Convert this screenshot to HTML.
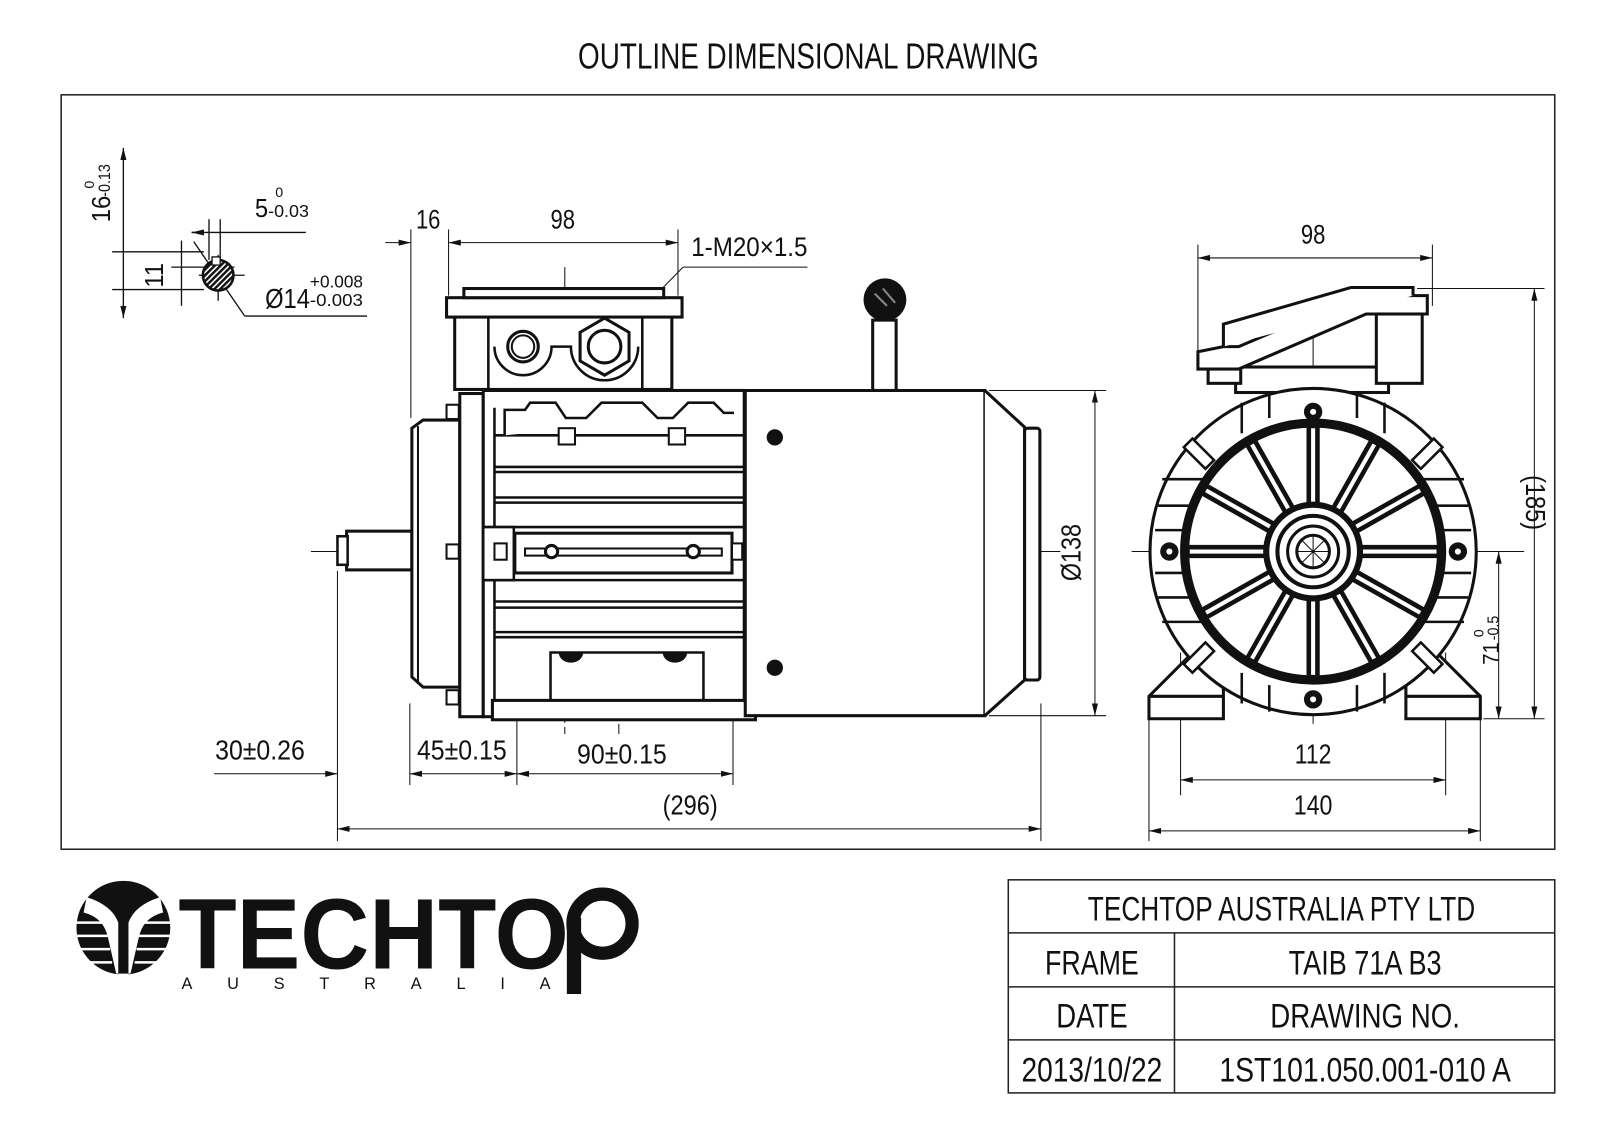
<!DOCTYPE html>
<html><head><meta charset="utf-8"><style>
html,body{margin:0;padding:0;background:#fff;}
svg{display:block;}
text{font-family:"Liberation Sans Narrow","Liberation Sans",sans-serif;fill:#111;}
</style></head><body>
<svg width="1599" height="1130" viewBox="0 0 1599 1130" xmlns="http://www.w3.org/2000/svg">
<defs>
<marker id="a" viewBox="0 0 12 6" refX="12" refY="3" markerWidth="12" markerHeight="6" orient="auto-start-reverse" markerUnits="userSpaceOnUse"><path d="M0,0L12,3L0,6z" fill="#111"/></marker>
<pattern id="h" width="4" height="4" patternUnits="userSpaceOnUse" patternTransform="rotate(45)"><rect width="4" height="4" fill="#fff"/><rect width="2.4" height="4" fill="#111"/></pattern>
</defs>
<g transform="scale(1.0195)">
<text x="793" y="67" text-anchor="middle" font-size="35" textLength="452" lengthAdjust="spacingAndGlyphs">OUTLINE DIMENSIONAL DRAWING</text>
<rect x="60" y="93" width="1465" height="740" fill="none" stroke="#222" stroke-width="1.5"/>

<!-- keyway detail -->
<g stroke="#111" fill="none" stroke-width="1.3">
<line x1="121" y1="145" x2="121" y2="312" marker-start="url(#a)" marker-end="url(#a)"/>
<line x1="110" y1="247" x2="200" y2="247"/><line x1="110" y1="284" x2="200" y2="284"/>
<line x1="178" y1="236" x2="178" y2="300"/>
<line x1="168" y1="262" x2="230" y2="262"/>
<line x1="188" y1="228" x2="300" y2="228"/>
<line x1="205" y1="215" x2="205" y2="255"/><line x1="216" y1="215" x2="216" y2="255"/>
<line x1="188" y1="228" x2="200" y2="228" marker-start="url(#a)"/>
<line x1="195" y1="270" x2="240" y2="270"/><line x1="214" y1="250" x2="214" y2="295"/>
<line x1="190" y1="237" x2="240" y2="310"/><line x1="240" y1="310" x2="360" y2="310"/>
<circle cx="214" cy="270" r="15" fill="url(#h)" stroke-width="2.5"/>
<rect x="208" y="252" width="8" height="8" fill="#fff"/>
</g>
<text transform="translate(108,218) rotate(-90)" font-size="25" textLength="26" lengthAdjust="spacingAndGlyphs">16</text>
<text transform="translate(108,193) rotate(-90)" font-size="16" textLength="32" lengthAdjust="spacingAndGlyphs">-0.13</text>
<text transform="translate(92,185) rotate(-90)" font-size="14">0</text>
<text x="250" y="213" font-size="25" textLength="13" lengthAdjust="spacingAndGlyphs">5</text><text x="263" y="213" font-size="17" textLength="40" lengthAdjust="spacingAndGlyphs">-0.03</text><text x="270" y="193" font-size="14">0</text>
<text transform="translate(160,282) rotate(-90)" font-size="25" textLength="24" lengthAdjust="spacingAndGlyphs">11</text>
<text x="260" y="302" font-size="27" textLength="44" lengthAdjust="spacingAndGlyphs">Ø14</text><text x="304" y="282" font-size="17" textLength="52" lengthAdjust="spacingAndGlyphs">+0.008</text><text x="304" y="300" font-size="17" textLength="52" lengthAdjust="spacingAndGlyphs">-0.003</text>

<!-- side view -->
<g stroke="#111" fill="none" stroke-width="1">
<line x1="305" y1="541" x2="1040" y2="541" stroke-dasharray="40 4 3 4"/>
<line x1="554" y1="262" x2="554" y2="720" stroke-dasharray="30 4 3 4"/>
<line x1="607" y1="300" x2="607" y2="720" stroke-dasharray="30 4 3 4"/>
<line x1="403" y1="225" x2="403" y2="410"/><line x1="440" y1="225" x2="440" y2="290"/><line x1="665" y1="225" x2="665" y2="290"/>
<line x1="378" y1="238" x2="403" y2="238" marker-end="url(#a)"/>
<line x1="440" y1="238" x2="665" y2="238" marker-start="url(#a)" marker-end="url(#a)"/>
<line x1="670" y1="262" x2="792" y2="262"/><line x1="670" y1="262" x2="615" y2="318"/>
<line x1="331" y1="560" x2="331" y2="825"/><line x1="402" y1="690" x2="402" y2="770"/><line x1="507" y1="690" x2="507" y2="770"/><line x1="719" y1="690" x2="719" y2="770"/><line x1="1021" y1="690" x2="1021" y2="825"/>
<line x1="210" y1="759" x2="331" y2="759" marker-end="url(#a)"/>
<line x1="402" y1="759" x2="507" y2="759" marker-start="url(#a)" marker-end="url(#a)"/>
<line x1="507" y1="759" x2="719" y2="759" marker-start="url(#a)" marker-end="url(#a)"/>
<line x1="331" y1="813" x2="1021" y2="813" marker-start="url(#a)" marker-end="url(#a)"/>
<line x1="970" y1="383" x2="1085" y2="383"/><line x1="970" y1="702" x2="1085" y2="702"/>
<line x1="1074" y1="383" x2="1074" y2="702" marker-start="url(#a)" marker-end="url(#a)"/>
</g>
<text x="420" y="224" font-size="26" text-anchor="middle" textLength="24" lengthAdjust="spacingAndGlyphs">16</text>
<text x="552" y="224" font-size="26" text-anchor="middle" textLength="24" lengthAdjust="spacingAndGlyphs">98</text>
<text x="735" y="251" font-size="26" text-anchor="middle" textLength="114" lengthAdjust="spacingAndGlyphs">1-M20×1.5</text>
<text x="255" y="745" font-size="27" text-anchor="middle" textLength="88" lengthAdjust="spacingAndGlyphs">30±0.26</text>
<text x="453" y="745" font-size="27" text-anchor="middle" textLength="88" lengthAdjust="spacingAndGlyphs">45±0.15</text>
<text x="610" y="749" font-size="27" text-anchor="middle" textLength="88" lengthAdjust="spacingAndGlyphs">90±0.15</text>
<text x="677" y="799" font-size="27" text-anchor="middle" textLength="54" lengthAdjust="spacingAndGlyphs">(296)</text>
<text transform="translate(1060,542) rotate(-90)" font-size="27" text-anchor="middle" textLength="56" lengthAdjust="spacingAndGlyphs">Ø138</text>

<g stroke="#111" fill="#fff" stroke-width="3">
<rect x="340" y="521" width="64" height="38"/><rect x="331" y="526" width="10" height="28" stroke-width="2.5"/>
<path d="M404,420 L415,412 L451,412 L451,674 L415,674 L404,664 Z"/>
<line x1="410" y1="418" x2="410" y2="668" stroke-width="2"/>
<rect x="451" y="386" width="23" height="317"/>
<rect x="438" y="397" width="12" height="14" stroke-width="2"/><rect x="438" y="534" width="12" height="14" stroke-width="2"/><rect x="438" y="677" width="12" height="14" stroke-width="2"/>
<rect x="474" y="383" width="256" height="320"/>
<g stroke-width="2.5">
<line x1="485" y1="427" x2="730" y2="427"/><line x1="485" y1="458" x2="730" y2="458"/><line x1="485" y1="463" x2="730" y2="463"/>
<line x1="485" y1="488" x2="730" y2="488"/><line x1="485" y1="493" x2="730" y2="493"/><line x1="474" y1="517" x2="730" y2="517"/>
<line x1="474" y1="569" x2="730" y2="569"/><line x1="485" y1="590" x2="730" y2="590"/><line x1="485" y1="596" x2="730" y2="596"/>
<line x1="485" y1="620" x2="730" y2="620"/><line x1="485" y1="625" x2="730" y2="625"/>
<line x1="485" y1="400" x2="485" y2="690"/>
</g>
<path d="M495,427 L495,402 L515,402 L520,395 L545,395 L555,410 L575,410 L590,395 L630,395 L645,410 L660,410 L675,395 L700,395 L710,405 L720,405" stroke-width="2.5"/>
<rect x="548" y="420" width="16" height="16" stroke-width="2"/><rect x="656" y="420" width="16" height="16" stroke-width="2"/>
<path d="M540,690 L540,640 L690,640 L690,690" stroke-width="2.5"/>
<rect x="474" y="517" width="30" height="52" stroke-width="2.5"/>
<rect x="505" y="523" width="213" height="39"/>
<rect x="515" y="538" width="193" height="7" stroke-width="2"/>
<circle cx="541" cy="541" r="6"/><circle cx="680" cy="541" r="6"/>
<rect x="485" y="533" width="12" height="16" stroke-width="2"/><rect x="718" y="533" width="10" height="16" stroke-width="2"/>
<rect x="483" y="687" width="258" height="19"/>
<rect x="446" y="310" width="213" height="72"/>
<rect x="438" y="292" width="231" height="19"/>
<rect x="455" y="283" width="196" height="9"/>
<line x1="479" y1="311" x2="479" y2="382" stroke-width="2.5"/><line x1="630" y1="311" x2="630" y2="382" stroke-width="2.5"/>
<path d="M485,340 A28,28 0 0 0 541,340 L560,340 A33,33 0 0 0 626,340" stroke-width="2.5"/>
<circle cx="513" cy="340" r="15"/><circle cx="513" cy="340" r="11" stroke-width="2"/>
<polygon points="593,312 617,326 617,354 593,368 569,354 569,326"/><circle cx="593" cy="340" r="16"/>
<path d="M731,383 L966,383 L966,702 L731,702 Z"/>
<path d="M966,383 L1005,419 L1005,667 L966,702"/>
<rect x="1005" y="420" width="15" height="247" rx="3"/>
<rect x="856" y="314" width="23" height="69"/>
</g>
<circle cx="868" cy="294" r="21" fill="#111"/>
<path d="M858,288 L870,300 M866,283 L878,297" stroke="#888" stroke-width="2"/>
<circle cx="760" cy="429" r="8" fill="#111"/><circle cx="760" cy="655" r="8" fill="#111"/>
<path d="M548,640 a12,10 0 0 0 24,0 z M650,640 a12,10 0 0 0 24,0 z" fill="#111"/>

<!-- end view -->
<g stroke="#111" fill="none" stroke-width="1">
<line x1="1175" y1="253" x2="1405" y2="253" marker-start="url(#a)" marker-end="url(#a)"/>
<line x1="1175" y1="240" x2="1175" y2="345"/><line x1="1405" y1="240" x2="1405" y2="300"/>
<line x1="1390" y1="283" x2="1515" y2="283"/><line x1="1455" y1="705" x2="1515" y2="705"/>
<line x1="1505" y1="283" x2="1505" y2="705" marker-start="url(#a)" marker-end="url(#a)"/>
<line x1="1440" y1="541" x2="1495" y2="541"/>
<line x1="1470" y1="541" x2="1470" y2="705" marker-start="url(#a)" marker-end="url(#a)"/>
<line x1="1158" y1="640" x2="1158" y2="780"/><line x1="1418" y1="640" x2="1418" y2="780"/>
<line x1="1158" y1="765" x2="1418" y2="765" marker-start="url(#a)" marker-end="url(#a)"/>
<line x1="1127" y1="690" x2="1127" y2="825"/><line x1="1452" y1="690" x2="1452" y2="825"/>
<line x1="1127" y1="815" x2="1452" y2="815" marker-start="url(#a)" marker-end="url(#a)"/>
<line x1="1110" y1="541" x2="1470" y2="541"/><line x1="1288" y1="300" x2="1288" y2="710"/>
</g>
<text x="1288" y="239" font-size="26" text-anchor="middle" textLength="24" lengthAdjust="spacingAndGlyphs">98</text>
<text transform="translate(1497,493) rotate(90)" font-size="27" text-anchor="middle" textLength="54" lengthAdjust="spacingAndGlyphs">(185)</text>
<text transform="translate(1470,652) rotate(-90)" font-size="22" textLength="22" lengthAdjust="spacingAndGlyphs">71</text>
<text transform="translate(1470,628) rotate(-90)" font-size="15" textLength="24" lengthAdjust="spacingAndGlyphs">-0.5</text>
<text transform="translate(1455,625) rotate(-90)" font-size="14">0</text>
<text x="1288" y="749" font-size="27" text-anchor="middle" textLength="36" lengthAdjust="spacingAndGlyphs">112</text>
<text x="1288" y="799" font-size="27" text-anchor="middle" textLength="38" lengthAdjust="spacingAndGlyphs">140</text>

<g stroke="#111" fill="#fff" stroke-width="3">
<path d="M1127,705 L1127,683 L1170,640 L1200,660 L1200,705 Z"/>
<path d="M1452,705 L1452,683 L1409,640 L1379,660 L1379,705 Z"/>
<line x1="1127" y1="683" x2="1200" y2="683"/><line x1="1379" y1="683" x2="1452" y2="683"/>
<rect x="1212" y="360" width="150" height="25"/>
<path d="M1175,345 L1175,362 L1215,362 L1340,308 L1400,308 L1400,290 L1332,290 L1215,340 L1200,340 Z"/>
<path d="M1200,340 L1200,318 L1325,282 L1386,282 L1386,290"/>
<rect x="1185" y="362" width="32" height="14"/>
<rect x="1350" y="308" width="45" height="68"/>
<circle cx="1288" cy="541" r="160"/>
<g stroke-width="2.5">
<line x1="1140" y1="470" x2="1180" y2="470"/><line x1="1136" y1="496" x2="1170" y2="496"/><line x1="1133" y1="520" x2="1165" y2="520"/>
<line x1="1133" y1="562" x2="1165" y2="562"/><line x1="1136" y1="586" x2="1170" y2="586"/><line x1="1140" y1="610" x2="1180" y2="610"/>
<line x1="1396" y1="470" x2="1436" y2="470"/><line x1="1406" y1="496" x2="1440" y2="496"/><line x1="1411" y1="520" x2="1443" y2="520"/>
<line x1="1411" y1="562" x2="1443" y2="562"/><line x1="1406" y1="586" x2="1440" y2="586"/><line x1="1396" y1="610" x2="1436" y2="610"/>
<line x1="1218" y1="395" x2="1218" y2="425"/><line x1="1245" y1="385" x2="1245" y2="410"/><line x1="1331" y1="385" x2="1331" y2="410"/><line x1="1358" y1="395" x2="1358" y2="425"/>
<line x1="1218" y1="660" x2="1218" y2="690"/><line x1="1245" y1="672" x2="1245" y2="698"/><line x1="1331" y1="672" x2="1331" y2="698"/><line x1="1358" y1="660" x2="1358" y2="690"/>
</g>
<circle cx="1288" cy="541" r="126" stroke-width="9"/>
</g>
<g stroke="#111" stroke-width="13">
<line x1="1288" y1="497" x2="1288" y2="418"/><line x1="1288" y1="585" x2="1288" y2="664"/>
<line x1="1244" y1="541" x2="1165" y2="541"/><line x1="1332" y1="541" x2="1411" y2="541"/>
<line x1="1310" y1="503" x2="1349" y2="434"/><line x1="1266" y1="503" x2="1227" y2="434"/>
<line x1="1310" y1="579" x2="1349" y2="648"/><line x1="1266" y1="579" x2="1227" y2="648"/>
<line x1="1326" y1="519" x2="1395" y2="480"/><line x1="1250" y1="519" x2="1181" y2="480"/>
<line x1="1326" y1="563" x2="1395" y2="602"/><line x1="1250" y1="563" x2="1181" y2="602"/>
</g>
<g stroke="#fff" stroke-width="4">
<line x1="1288" y1="497" x2="1288" y2="420"/><line x1="1288" y1="585" x2="1288" y2="662"/>
<line x1="1244" y1="541" x2="1167" y2="541"/><line x1="1332" y1="541" x2="1409" y2="541"/>
<line x1="1310" y1="503" x2="1348" y2="436"/><line x1="1266" y1="503" x2="1228" y2="436"/>
<line x1="1310" y1="579" x2="1348" y2="646"/><line x1="1266" y1="579" x2="1228" y2="646"/>
<line x1="1326" y1="519" x2="1393" y2="481"/><line x1="1250" y1="519" x2="1183" y2="481"/>
<line x1="1326" y1="563" x2="1393" y2="601"/><line x1="1250" y1="563" x2="1183" y2="601"/>
</g>
<g stroke="#111" fill="#fff">
<circle cx="1288" cy="541" r="46" stroke-width="6"/>
<circle cx="1288" cy="541" r="35" stroke-width="4"/>
<circle cx="1288" cy="541" r="25" stroke-width="3"/>
<circle cx="1288" cy="541" r="16" stroke-width="3"/>
<path d="M1277,530 L1299,552 M1299,530 L1277,552 M1288,525 L1288,557 M1272,541 L1304,541" stroke-width="1"/>
</g>
<g fill="#111"><circle cx="1147" cy="541" r="9"/><circle cx="1430" cy="541" r="9"/><circle cx="1288" cy="686" r="9"/><circle cx="1288" cy="404" r="9"/></g>
<g fill="#fff"><circle cx="1147" cy="541" r="3"/><circle cx="1430" cy="541" r="3"/><circle cx="1288" cy="686" r="3"/><circle cx="1288" cy="404" r="3"/></g>
<g stroke="#111" stroke-width="2.5" fill="#fff">
<rect x="1170" y="430" width="12" height="30" transform="rotate(-45 1176 445)"/>
<rect x="1394" y="430" width="12" height="30" transform="rotate(45 1400 445)"/>
<rect x="1170" y="630" width="12" height="30" transform="rotate(45 1176 645)"/>
<rect x="1394" y="630" width="12" height="30" transform="rotate(-45 1400 645)"/>
</g>

<!-- logo -->
<circle cx="121" cy="910" r="46" fill="#111"/>
<path d="M85,880 Q110,888 116,905 L116,958 L126,958 L126,905 Q132,888 157,880 L160,895 Q140,900 136,920 L128,955 L114,955 L106,920 Q102,900 82,895 Z" fill="#fff"/>
<g stroke="#fff" stroke-width="2.5"><line x1="74" y1="905" x2="104" y2="905"/><line x1="74" y1="918" x2="106" y2="918"/><line x1="76" y1="931" x2="108" y2="931"/><line x1="80" y1="944" x2="110" y2="944"/><line x1="138" y1="905" x2="168" y2="905"/><line x1="136" y1="918" x2="168" y2="918"/><line x1="134" y1="931" x2="166" y2="931"/><line x1="132" y1="944" x2="162" y2="944"/></g>
<text x="175" y="950" font-family="'Liberation Sans',sans-serif" font-weight="bold" font-size="98" textLength="383" lengthAdjust="spacingAndGlyphs">TECHTO</text>
<circle cx="591" cy="906" r="29" fill="none" stroke="#111" stroke-width="13"/>
<rect x="556" y="900" width="14" height="75" fill="#111"/>
<text x="178" y="970" font-size="16" textLength="362" lengthAdjust="spacing">AUSTRALIA</text>

<!-- title block -->
<g stroke="#222" stroke-width="1.5" fill="none">
<rect x="989" y="863" width="536" height="209"/>
<line x1="989" y1="915" x2="1525" y2="915"/><line x1="989" y1="968" x2="1525" y2="968"/><line x1="989" y1="1020" x2="1525" y2="1020"/>
<line x1="1152" y1="915" x2="1152" y2="1072"/>
</g>
<g font-size="34" text-anchor="middle">
<text x="1257" y="903" textLength="380" lengthAdjust="spacingAndGlyphs">TECHTOP AUSTRALIA PTY LTD</text>
<text x="1071" y="956" textLength="92" lengthAdjust="spacingAndGlyphs">FRAME</text>
<text x="1339" y="956" textLength="150" lengthAdjust="spacingAndGlyphs">TAIB 71A B3</text>
<text x="1071" y="1008" textLength="70" lengthAdjust="spacingAndGlyphs">DATE</text>
<text x="1339" y="1008" textLength="186" lengthAdjust="spacingAndGlyphs">DRAWING NO.</text>
<text x="1071" y="1061" textLength="138" lengthAdjust="spacingAndGlyphs">2013/10/22</text>
<text x="1339" y="1061" textLength="286" lengthAdjust="spacingAndGlyphs">1ST101.050.001-010 A</text>
</g>
</g>
</svg>
</body></html>
